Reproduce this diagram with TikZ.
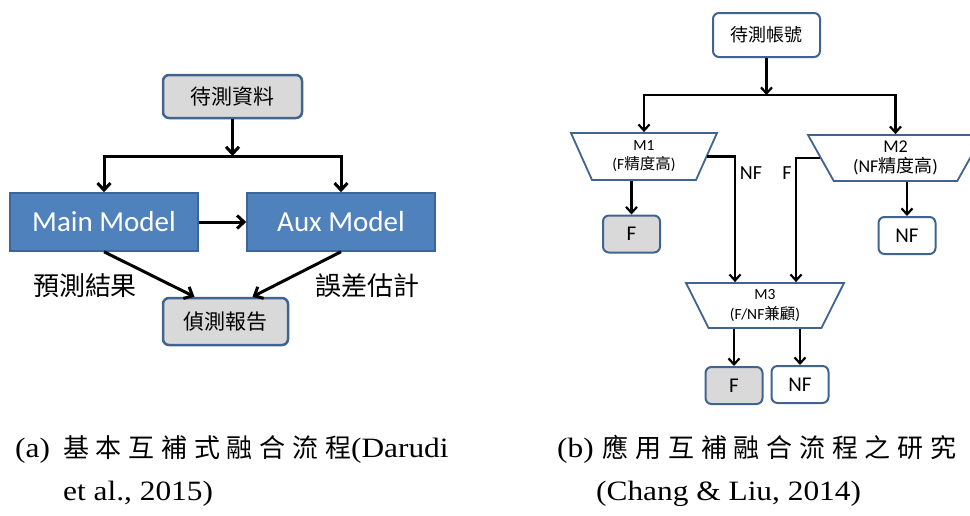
\documentclass[tikz,border=0pt]{standalone}
\usepackage{fontspec}
\setmainfont{Liberation Serif}
\newfontfamily\cjk{Noto Sans CJK TC}
\newfontfamily\capcjk[LetterSpace=26]{Noto Sans CJK TC}
\newfontfamily\capfont[FakeStretch=1.12]{Liberation Serif}
\newfontfamily\calib{Carlito}
\usetikzlibrary{positioning,arrows.meta,shapes.geometric}
\definecolor{boxline}{HTML}{41648E}
\definecolor{boxgray}{HTML}{D9D9D9}
\definecolor{modelblue}{HTML}{4F81BD}
\definecolor{modelline}{HTML}{3A6699}
\tikzset{
  arr/.style={-{Straight Barb[length=7pt,width=13pt]},line width=3pt},
  arrb/.style={-{Straight Barb[length=6pt,width=11pt]},line width=2.2pt},
  graybox/.style={rectangle,rounded corners=6pt,draw=boxline,line width=2.5pt,fill=boxgray,inner sep=0pt,font=\cjk\fontsize{21}{21}\selectfont},
  modelbox/.style={rectangle,draw=modelline,line width=1.5pt,fill=modelblue,text=white,inner sep=0pt,minimum width=188,minimum height=58,font=\calib\fontsize{29}{29}\selectfont},
  endbox/.style={rectangle,rounded corners=6pt,draw=boxline,line width=2pt,fill=white,inner sep=0pt,minimum width=57,minimum height=37,font=\calib\fontsize{21}{21}\selectfont},
  trap/.style={trapezium,trapezium stretches body,draw=boxline,line width=1.8pt,fill=white,inner sep=0pt,align=center},
  lbl/.style={inner sep=0pt,font=\cjk\fontsize{26}{26}\selectfont},
  captext/.style={inner sep=0pt,anchor=base west,font=\capfont\fontsize{28}{28}\selectfont},
}
\begin{document}
\begin{tikzpicture}[x=1pt,y=-1pt]
\useasboundingbox (0,0) rectangle (970,515);
\clip (0,0) rectangle (970,515);
% (a)
\node[graybox,minimum width=139,minimum height=43] (data) at (232.5,96.5) {待測資料};
\node[modelbox] (main) at (104,222) {Main Model};
\node[modelbox] (aux) at (341,222) {Aux Model};
\node[graybox,minimum width=125,minimum height=47] (report) at (225.5,321.5) {偵測報告};
\coordinate (splitA) at (232.5,156);
\draw[arr] (data) -- (splitA);
\draw[arr] (splitA) -| (main);
\draw[arr] (splitA) -| (aux);
\draw[arr] (main) -- (aux);
\draw[arr] (main.south) -- ([xshift=-31pt]report.north);
\draw[arr] (aux.south) -- ([xshift=27pt]report.north);
\node[lbl] (predlbl) at (85,286) {預測結果};
\node[lbl] (errlbl) at (367,286) {誤差估計};
% (b)
\node[endbox,minimum width=107,minimum height=44,font=\cjk\fontsize{18}{18}\selectfont] (acct) at (766.5,35) {待測帳號};
\node[trap,minimum width=146,minimum height=47,trapezium left angle=124,trapezium right angle=124,
  font=\calib\fontsize{15.5}{19}\selectfont] (M1) at (644,156.5) {M1\\(F{\cjk 精度高})};
\node[trap,minimum width=175,minimum height=46,trapezium left angle=127,trapezium right angle=127,
  font=\calib\fontsize{18}{20}\selectfont] (M2) at (895.5,158) {M2\\(NF{\cjk 精度高})};
\node[trap,minimum width=158,minimum height=45,trapezium left angle=125,trapezium right angle=125,
  font=\calib\fontsize{15.5}{20}\selectfont] (M3) at (765,305.5) {M3\\(F/NF{\cjk 兼顧})};
\node[endbox,fill=boxgray] (F1) at (631.5,234) {F};
\node[endbox] (NF1) at (907,235.5) {NF};
\node[endbox,fill=boxgray] (F3) at (734,385.5) {F};
\node[endbox] (NF3) at (800,384.5) {NF};
\coordinate (splitB) at (766.5,95);
\draw[arrb] (acct) -- (splitB);
\draw[arrb] (splitB) -| (M1);
\draw[arrb] (splitB) -| (M2);
\draw[arrb] (F1 |- M1.south) -- (F1);
\draw[arrb] (NF1 |- M2.south) -- (NF1);
\draw[arrb] (M1.east) -| ([xshift=-30pt]M3.north);
\draw[arrb] (M2.west) -| ([xshift=31pt]M3.north);
\draw[arrb] (F3 |- M3.south) -- (F3);
\draw[arrb] (NF3 |- M3.south) -- (NF3);
\node[inner sep=0pt,font=\calib\fontsize{20}{20}\selectfont] (nflbl) at (751,173) {NF};
\node[inner sep=0pt,font=\calib\fontsize{20}{20}\selectfont] (flbl) at (787,173) {F};
% captions
\node[captext] (capa) at (15,457)
  {(a)\hspace{13pt}{\capcjk\fontsize{26}{26}\selectfont 基本互補式融合流程}(Darudi};
\node[captext] (capa2) at (63,500) {et al., 2015)};
\node[captext] (capb) at (557,457)
  {(b)\hspace{9pt}{\capcjk\fontsize{26}{26}\selectfont 應用互補融合流程之研究}};
\node[captext] (capb2) at (596,500) {(Chang \& Liu, 2014)};
\end{tikzpicture}
\end{document}
